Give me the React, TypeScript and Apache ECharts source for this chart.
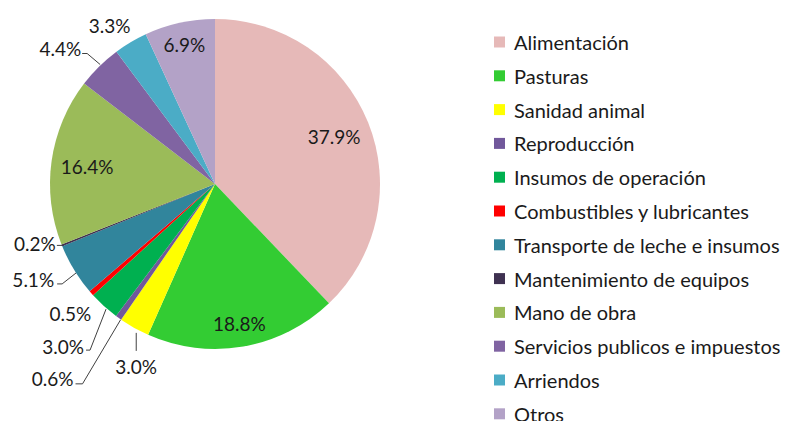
import React, { useEffect, useRef } from "react";
import * as echarts from "echarts";

const categories = [
  "Alimentación",
  "Pasturas",
  "Sanidad animal",
  "Reproducción",
  "Insumos de operación",
  "Combustibles y lubricantes",
  "Transporte de leche e insumos",
  "Mantenimiento de equipos",
  "Mano de obra",
  "Servicios publicos e impuestos",
  "Arriendos",
  "Otros",
];
const values = [37.9, 18.8, 3.0, 0.6, 3.0, 0.5, 5.1, 0.2, 16.4, 4.4, 3.3, 6.9];
const colors = [
  "#E6B9B8",
  "#33CC33",
  "#FFFF00",
  "#71589B",
  "#00B050",
  "#FF0000",
  "#31859C",
  "#3F3151",
  "#9BBB59",
  "#8064A2",
  "#4BACC6",
  "#B3A2C7",
];
const insideLabel = [true, true, false, false, false, false, false, false, true, false, false, true];

// layout constants
const CX = 215;
const CY = 184;
const R = 165;
const insideFactor: Record<number, number> = { 0: 1.5, 1: 1.66, 8: 1.51, 11: 1.67 };
type OutLayout = { dx: number; dy: number; align: string; line?: number[][] };
const outsideLayout: Record<number, OutLayout> = {
  2: { dx: 2, dy: 39, align: "center", line: [[2, 5], [2, 23]] },
  3: { dx: -45, dy: 61, align: "right", line: [[2, 2], [-36, 66], [-43, 66]] },
  4: { dx: -20, dy: 40, align: "right", line: [[2, 3], [-14, 44], [-18, 44]] },
  5: { dx: 0, dy: 20, align: "right" },
  6: { dx: -20, dy: 10, align: "right", line: [[2, 3], [-12, 14], [-17, 14]] },
  7: { dx: -6, dy: -2, align: "right", line: [[2, 0], [-5, 0]] },
  9: { dx: -18, dy: -18, align: "right", line: [[1, -2], [-12, -13], [-17, -13]] },
  10: { dx: -21, dy: -17, align: "center" },
};

export default function App() {
  const ref = useRef<HTMLDivElement>(null);
  useEffect(() => {
    const chart = echarts.init(ref.current!, null, { renderer: "svg" });
    const data = categories.map((name, i) => ({
      name,
      value: values[i],
      itemStyle: { color: colors[i] },
      label: { position: insideLabel[i] ? "inside" : "outside" },
      labelLine: { show: !insideLabel[i] && !!(outsideLayout[i] && outsideLayout[i].line) },
    }));
    chart.setOption({
      animation: false,
      backgroundColor: "#ffffff",
      legend: {
        orient: "vertical",
        left: 494,
        top: 32,
        height: 410,
        padding: 0,
        itemWidth: 11,
        itemHeight: 11,
        itemGap: 13.8,
        icon: "rect",
        selectedMode: false,
        data: categories,
        textStyle: {
          fontFamily: "Lato",
          fontSize: 20,
          lineHeight: 20,
          color: "#1a1a1a",
          padding: [0, 0, 0, 4],
        },
      },
      series: [
        {
          type: "pie",
          center: [CX, CY],
          radius: [0, R],
          startAngle: 90,
          clockwise: true,
          avoidLabelOverlap: false,
          data,
          label: {
            fontFamily: "Lato",
            fontSize: 19,
            color: "#1a1a1a",
            formatter: (p: any) => Number(p.value).toFixed(1) + "%",
          },
          labelLine: {
            length: 10,
            length2: 6,
            smooth: false,
            lineStyle: { color: "#404040", width: 1 },
          },
          labelLayout: (p: any) => {
            const i = p.dataIndex;
            if (insideLabel[i]) {
              const r = p.labelRect;
              const k = insideFactor[i] || 1.6;
              const mx = r.x + r.width / 2;
              const my = r.y + r.height / 2;
              return {
                x: CX + (mx - CX) * k,
                y: CY + (my - CY) * k,
                align: "center",
                verticalAlign: "middle",
              };
            }
            const L = outsideLayout[i];
            const pts = p.labelLinePoints;
            if (!L || !pts || !pts[0]) return {};
            const ex = pts[0][0];
            const ey = pts[0][1];
            const res: any = { x: ex + L.dx, y: ey + L.dy, align: L.align, verticalAlign: "middle" };
            if (L.line) res.labelLinePoints = L.line.map(([a, b]) => [ex + a, ey + b]);
            return res;
          },
        },
      ],
    });
    return () => chart.dispose();
  }, []);
  return <div ref={ref} style={{ position: "fixed", left: 0, top: 0, width: 787, height: 421 }} />;
}
